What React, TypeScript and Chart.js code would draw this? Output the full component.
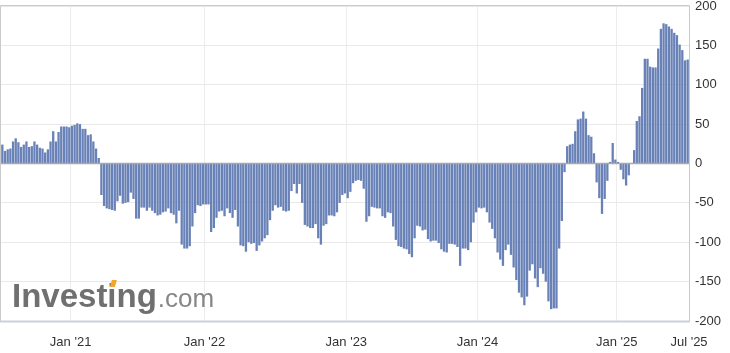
import React, { useEffect, useRef } from "react";
import { Chart, registerables } from "chart.js";

Chart.register(...registerables);

// Weekly net positions, split by calendar year
const values2020: number[] = [
  24, 16, 18, 19, 28, 32, 27, 21, 24, 28, 21, 22, 28, 24, 20, 19, 14, 18, 28, 41, 28, 40, 47, 47, 47, 46,
];
const values2021: number[] = [
  48, 49, 51, 50, 44, 44, 36, 37, 28, 19, 7,
  -40, -54, -57, -58, -59, -60, -48, -41, -51, -50, -49, -37, -45, -70, -70, -56, -56, -60, -56, -60,
  -63, -66, -65, -62, -61, -57, -63, -65, -76, -60, -103, -108, -108, -105, -80, -63, -53, -54, -52,
];
const values2022: number[] = [
  -52, -52,
  -87, -82, -69, -61, -60, -67, -57, -63, -69, -59, -80, -104, -105, -112, -100, -102, -101, -111, -104,
  -99, -95, -91, -72, -60, -53, -56, -55, -60, -61, -60, -35, -26, -38, -26, -50, -78, -80, -82, -82,
  -77, -95, -103,
  -79, -77, -66, -66, -67, -62, -50, -40, -38,
];
const values2023: number[] = [
  -44, -36, -25, -22, -21, -22, -32, -74, -67, -55, -56, -57, -57, -67, -69, -62, -63, -80, -97, -105,
  -106, -108, -109, -115, -119, -95, -79, -80, -85, -84, -96, -99, -98, -98,
  -101, -109, -112, -113, -102, -102, -103, -106, -130, -108, -108, -110, -100, -75, -62,
];
const values2024: number[] = [
  -56, -57, -56, -62, -75, -83, -95, -113, -122, -130, -110, -103, -116, -132, -148, -164, -170, -180,
  -169, -136, -128, -146, -157, -133, -140, -150, -175, -185, -184, -184, -108,
  -73, -11, 22, 24, 25, 41, 56, 57, 66, 57, 36, 34, 13, -24, -44, -64, -45, -22, 2, 26, 5,
];
const values2025: number[] = [
  2, -8, -20, -28, -15, 0, 17, 54, 60, 96, 133, 133, 123, 122, 122, 146, 171, 178, 177, 174, 171, 166,
  163, 151, 144, 131, 132,
];

const seriesValues: number[] = [
  ...values2020,
  ...values2021,
  ...values2022,
  ...values2023,
  ...values2024,
  ...values2025,
];

// X tick labels and the week boundary they sit on
const tickLabels: string[] = ["Jan '21", "Jan '22", "Jan '23", "Jan '24", "Jan '25", "Jul '25"];
const tickWeeks: number[] = [25.5, 75.5, 128.5, 177.5, 229.5, 256.5];

const yTicks: number[] = [-200, -150, -100, -50, 0, 50, 100, 150, 200];

const FONT = "Arial, 'Liberation Sans', Helvetica, sans-serif";

const decorPlugin = {
  id: "decor",
  beforeDatasetsDraw(chart: any) {
    const { ctx } = chart;
    ctx.save();
    ctx.textBaseline = "alphabetic";
    ctx.textAlign = "left";
    ctx.font = `bold 33px ${FONT}`;
    ctx.fillStyle = "#707070";
    const word = "Investing";
    ctx.fillText(word, 12, 307);
    const w = ctx.measureText(word).width;
    const xi = 12 + ctx.measureText("Invest").width;
    ctx.fillStyle = "#f2a531";
    ctx.beginPath();
    ctx.moveTo(xi + 2.5, 287);
    ctx.lineTo(xi + 4.5, 280);
    ctx.lineTo(xi + 9.5, 280);
    ctx.lineTo(xi + 7.5, 287);
    ctx.closePath();
    ctx.fill();
    ctx.font = `26px ${FONT}`;
    ctx.fillStyle = "#878787";
    ctx.fillText(".com", 12 + w + 1, 307);
    ctx.restore();
  },
  afterDatasetsDraw(chart: any) {
    const { ctx, chartArea, scales } = chart;
    const y0 = scales.y.getPixelForValue(0);
    ctx.save();
    ctx.strokeStyle = "#a9a9a9";
    ctx.lineWidth = 1.5;
    ctx.beginPath();
    ctx.moveTo(chartArea.left, y0);
    ctx.lineTo(chartArea.right, y0);
    ctx.stroke();
    ctx.strokeStyle = "#cacaca";
    ctx.lineWidth = 1;
    ctx.beginPath();
    ctx.moveTo(chartArea.left - 0.5, chartArea.bottom);
    ctx.lineTo(chartArea.left - 0.5, chartArea.top - 0.5);
    ctx.lineTo(chartArea.right + 0.5, chartArea.top - 0.5);
    ctx.lineTo(chartArea.right + 0.5, chartArea.bottom);
    ctx.stroke();
    ctx.strokeStyle = "#c9d1dd";
    ctx.lineWidth = 2;
    ctx.beginPath();
    ctx.moveTo(chartArea.left - 1, chartArea.bottom + 0.5);
    ctx.lineTo(chartArea.right + 1, chartArea.bottom + 0.5);
    ctx.stroke();
    ctx.restore();
  },
};

export default function App() {
  const canvasRef = useRef<HTMLCanvasElement | null>(null);

  useEffect(() => {
    document.body.style.margin = "0";
    const canvas = canvasRef.current;
    if (!canvas) return;
    const points = seriesValues.map((v, i) => ({ x: i, y: v }));
    const chart = new Chart(canvas, {
      type: "bar",
      data: {
        datasets: [
          {
            data: points as any,
            backgroundColor: "#6881b6",
            borderWidth: 0,
            barPercentage: 0.86,
            categoryPercentage: 1,
          },
        ],
      },
      options: {
        animation: false,
        responsive: false,
        devicePixelRatio: 1,
        layout: { padding: { left: 1, top: 6, right: 0, bottom: 0 } },
        plugins: { legend: { display: false }, tooltip: { enabled: false } },
        scales: {
          x: {
            type: "linear",
            offset: false,
            min: -0.5,
            max: seriesValues.length - 0.5,
            grid: { color: "#ececec", lineWidth: 1, drawTicks: false, offset: false },
            border: { display: false },
            afterBuildTicks: (axis: any) => {
              axis.ticks = tickWeeks.map((v) => ({ value: v }));
            },
            afterFit: (s: any) => {
              s.height = 32;
              s.paddingLeft = 0;
              s.paddingRight = 0;
            },
            ticks: {
              autoSkip: false,
              maxRotation: 0,
              padding: 14,
              color: "#333333",
              font: { family: FONT, size: 13 },
              callback: (v: any) => {
                const k = tickWeeks.indexOf(Number(v));
                return k >= 0 ? tickLabels[k] : "";
              },
            },
          },
          y: {
            position: "right",
            min: -200,
            max: 200,
            afterBuildTicks: (axis: any) => {
              axis.ticks = yTicks.map((v) => ({ value: v }));
            },
            afterFit: (s: any) => {
              s.width = 41;
              s.paddingTop = 0;
              s.paddingBottom = 0;
            },
            grid: {
              drawTicks: false,
              color: (c: any) => (c.tick && c.tick.value === 0 ? "#a9a9a9" : "#e9e9e9"),
              lineWidth: 1,
            },
            border: { display: false },
            ticks: {
              padding: 6,
              color: "#333333",
              font: { family: FONT, size: 13 },
            },
          },
        },
      },
      plugins: [decorPlugin],
    });
    return () => chart.destroy();
  }, []);

  return (
    <div style={{ position: "absolute", left: 0, top: 0, width: 730, height: 353 }}>
      <canvas ref={canvasRef} width={730} height={353} style={{ display: "block" }} />
    </div>
  );
}
